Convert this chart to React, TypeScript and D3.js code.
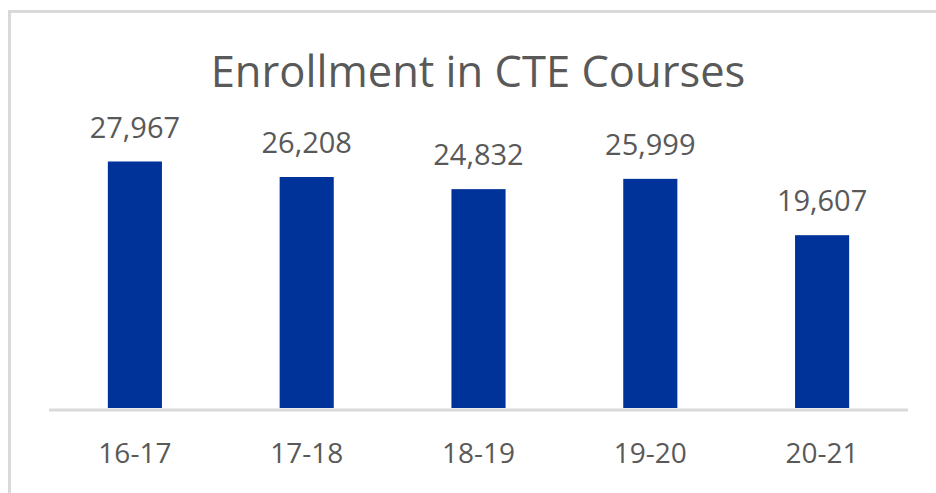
import React, { useRef, useEffect } from "react";
import * as d3 from "d3";

const years = ["16-17", "17-18", "18-19", "19-20", "20-21"];
const enrollment = [27967, 26208, 24832, 25999, 19607];

const W = 936;
const H = 493;
const PLOT = { LEFT: 49, RIGHT: 908, BASE: 408 };
const FONT = "'Open Sans', 'Segoe UI', sans-serif";
const TEXT = "#595959";

const drawChart = (el: SVGSVGElement) => {
  const svg = d3.select(el);
  svg.selectAll("*").remove();

  // chart frame (right and bottom edges fall outside the view)
  svg.append("rect")
    .attr("x", 9.5).attr("y", 11.5)
    .attr("width", 960).attr("height", 520)
    .attr("fill", "white")
    .attr("stroke", "#d9d9d9")
    .attr("stroke-width", 3);

  svg.append("text")
    .attr("x", 478).attr("y", 87)
    .attr("text-anchor", "middle")
    .attr("font-family", FONT)
    .attr("font-size", 43.5)
    .attr("fill", TEXT)
    .text("Enrollment in CTE Courses");

  const x = d3.scaleBand<string>()
    .domain(years)
    .range([PLOT.LEFT, PLOT.RIGHT])
    .padding(0);

  const k = 246.5 / 27967;
  const y = d3.scaleLinear()
    .domain([0, 30000])
    .range([PLOT.BASE, PLOT.BASE - 30000 * k]);

  const barW = x.bandwidth() * 0.315;
  const rows = years.map((yr, i) => ({ yr, v: enrollment[i] }));

  svg.append("g").selectAll("rect")
    .data(rows)
    .enter()
    .append("rect")
    .attr("x", d => x(d.yr)! + x.bandwidth() / 2 - barW / 2)
    .attr("y", d => y(d.v))
    .attr("width", barW)
    .attr("height", d => y(0) - y(d.v))
    .attr("fill", "#003399");

  svg.append("line")
    .attr("x1", PLOT.LEFT).attr("x2", PLOT.RIGHT)
    .attr("y1", PLOT.BASE + 2).attr("y2", PLOT.BASE + 2)
    .attr("stroke", "#d9d9d9")
    .attr("stroke-width", 3);

  svg.append("g").selectAll("text")
    .data(rows)
    .enter()
    .append("text")
    .attr("x", d => x(d.yr)! + x.bandwidth() / 2)
    .attr("y", d => y(d.v) - 24)
    .attr("text-anchor", "middle")
    .attr("font-family", FONT)
    .attr("font-size", 29)
    .attr("fill", TEXT)
    .text(d => d3.format(",")(d.v));

  svg.append("g").selectAll("text")
    .data(years)
    .enter()
    .append("text")
    .attr("x", d => x(d)! + x.bandwidth() / 2)
    .attr("y", 463)
    .attr("text-anchor", "middle")
    .attr("font-family", FONT)
    .attr("font-size", 28)
    .attr("fill", TEXT)
    .text(d => d);
};

const App = () => {
  const ref = useRef<SVGSVGElement>(null);

  useEffect(() => {
    if (ref.current) drawChart(ref.current);
  }, []);

  return (
    <svg
      ref={ref}
      width={W}
      height={H}
      style={{ position: "absolute", top: 0, left: 0, background: "white" }}
    />
  );
};

export default App;
